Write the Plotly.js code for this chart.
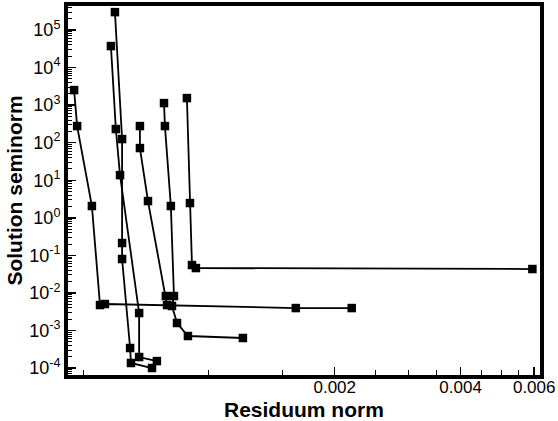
<!DOCTYPE html>
<html>
<head>
<meta charset="utf-8">
<script src="https://cdn.plot.ly/plotly-3.0.1.min.js"></script>
<style>html,body{margin:0;padding:0;background:#fff;}#chart{width:558px;height:421px;}</style>
</head>
<body>
<div id="chart"></div>
<script>
// Residuum norm (x) and solution seminorm (y) for each L-curve
var curveA_x = [4.76e-4, 4.84e-4, 5.25e-4, 5.49e-4, 5.64e-4, 1.614e-3, 2.196e-3];
var curveA_y = [2518, 277, 2.06, 4.75e-3, 5.06e-3, 3.95e-3, 3.95e-3];

var curveB1_x = [5.83e-4, 5.99e-4, 6.13e-4, 6.81e-4, 6.81e-4, 7.51e-4];
var curveB1_y = [3.74e4, 231, 13.7, 2.91e-3, 1.96e-4, 1.53e-4];

var curveB2_x = [5.96e-4, 6.20e-4, 6.20e-4, 6.20e-4, 6.48e-4, 6.51e-4, 7.31e-4];
var curveB2_y = [3.0e5, 125, 0.213, 0.0798, 3.41e-4, 1.36e-4, 1.0e-4];

var curveC_x = [6.84e-4, 6.84e-4, 7.15e-4, 7.89e-4, 7.94e-4];
var curveC_y = [277, 71.9, 2.79, 8.26e-3, 4.75e-3];

var curveD_x = [7.81e-4, 7.85e-4, 8.11e-4, 8.25e-4, 8.16e-4, 8.39e-4, 8.91e-4, 1.206e-3];
var curveD_y = [1135, 277, 2.06, 8.26e-3, 4.48e-3, 1.58e-3, 7.11e-4, 6.30e-4];

var curveE_x = [8.86e-4, 9.01e-4, 9.11e-4, 9.31e-4, 5.94e-3];
var curveE_y = [1542, 2.47, 0.0552, 0.0459, 0.0432];

var xTickVals = [0.002, 0.004, 0.006];
var xTickText = ['0.002', '0.004', '0.006'];
var xMinorVals = [0.0005, 0.001, 0.0015, 0.0025, 0.003, 0.0035, 0.0045, 0.005, 0.0055];
var yExponents = [-4, -3, -2, -1, 0, 1, 2, 3, 4, 5];

var curves = [
  [curveA_x, curveA_y], [curveB1_x, curveB1_y], [curveB2_x, curveB2_y],
  [curveC_x, curveC_y], [curveD_x, curveD_y], [curveE_x, curveE_y]
];

var traces = curves.map(function (c) {
  return {
    x: c[0], y: c[1], type: 'scatter', mode: 'lines+markers',
    line: {color: '#000', width: 1.8},
    marker: {symbol: 'square', size: 8.5, color: '#000'},
    hoverinfo: 'x+y'
  };
});

var yTickVals = yExponents.map(function (e) { return Math.pow(10, e); });
var yTickText = yExponents.map(function (e) { return '10<sup>' + e + '</sup>'; });
var yMinorVals = [];
for (var e = -5; e <= 5; e++) {
  for (var k = 2; k <= 9; k++) yMinorVals.push(k * Math.pow(10, e));
}

var layout = {
  width: 558, height: 421,
  margin: {l: 68, r: 18, t: 6, b: 46},
  paper_bgcolor: '#fff', plot_bgcolor: '#fff',
  showlegend: false,
  font: {family: 'Liberation Sans, Arial, sans-serif', color: '#000', size: 18},
  xaxis: {
    type: 'log', range: [-3.337, -2.208],
    tickmode: 'array', tickvals: xTickVals, ticktext: xTickText,
    ticks: 'inside', ticklen: 8, tickwidth: 1.5, tickcolor: '#000',
    minor: {tickmode: 'array', tickvals: xMinorVals, ticks: 'inside', ticklen: 5, tickwidth: 1, tickcolor: '#000', showgrid: false},
    showgrid: false, zeroline: false,
    showline: true, linecolor: '#000', linewidth: 4, mirror: true,
    tickfont: {size: 17}, ticklabelstandoff: -6
  },
  yaxis: {
    type: 'log', range: [-4.186, 5.64],
    tickmode: 'array', tickvals: yTickVals, ticktext: yTickText,
    ticks: 'inside', ticklen: 8, tickwidth: 1.5, tickcolor: '#000',
    minor: {tickmode: 'array', tickvals: yMinorVals, ticks: 'inside', ticklen: 4, tickwidth: 1, tickcolor: '#000', showgrid: false},
    showgrid: false, zeroline: false,
    showline: true, linecolor: '#000', linewidth: 4, mirror: true,
    tickfont: {size: 18}, ticklabelstandoff: 0,
    title: {text: '<b>Solution seminorm</b>', font: {size: 21}, standoff: 2}
  },
  annotations: [{
    text: '<b>Residuum norm</b>', xref: 'paper', yref: 'paper',
    x: 0.5, y: -0.094, xanchor: 'center', yanchor: 'middle',
    showarrow: false, font: {size: 21}, borderpad: 0
  }]
};

Plotly.newPlot('chart', traces, layout, {displayModeBar: false, staticPlot: true});
</script>
</body>
</html>
